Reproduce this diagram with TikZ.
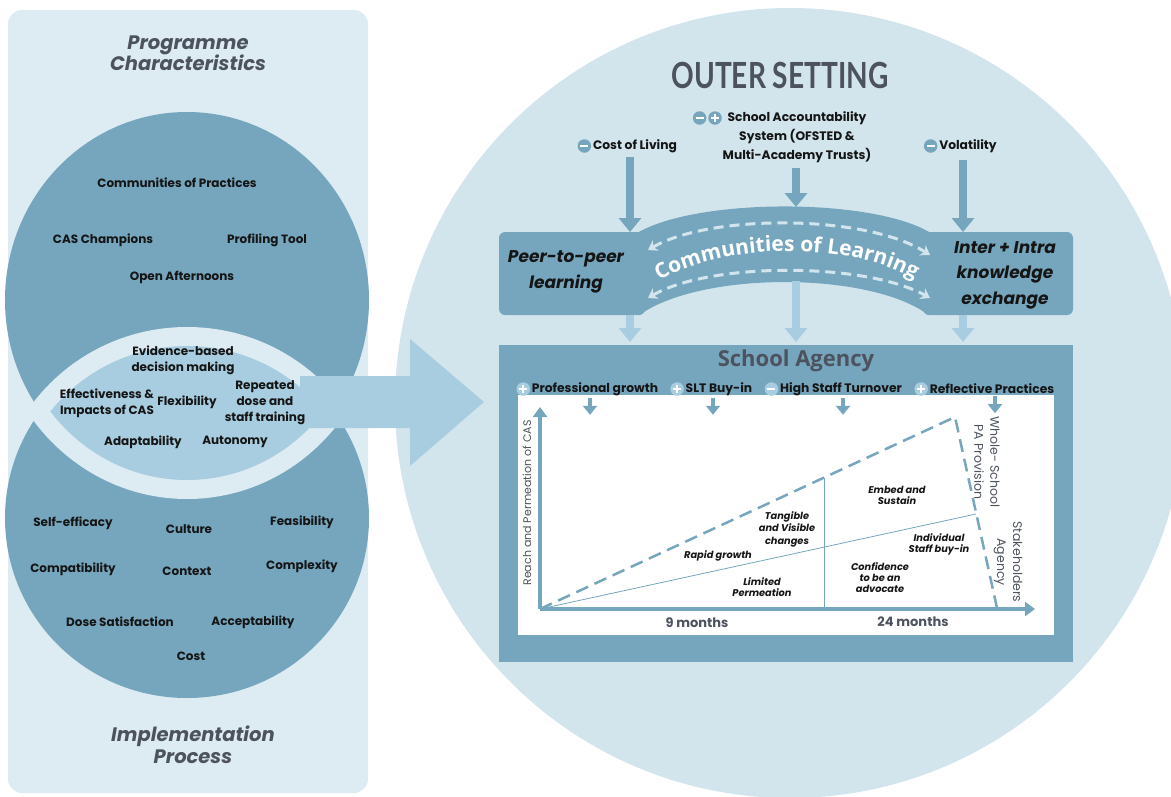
\documentclass[tikz,border=0pt]{standalone}
\usepackage{fontspec}
\setmainfont{Poppins}
\newfontfamily\opensans{Open Sans}
\newfontfamily\latofont{Lato}
\usepackage{graphicx}
\usepackage{tikz}
\usetikzlibrary{positioning,arrows.meta,decorations.text}

\definecolor{panelbg}{HTML}{DDEBF2}
\definecolor{deepblue}{HTML}{76A6BE}
\definecolor{lensblue}{HTML}{A8CDE0}
\definecolor{outerbg}{HTML}{D2E5ED}
\definecolor{inkgrey}{HTML}{4D535E}
\definecolor{inkblack}{HTML}{151515}

\newcommand{\fItem}{\fontsize{12}{16}\selectfont\bfseries}
\newcommand{\fHead}{\fontsize{19.5}{21.5}\selectfont\bfseries\itshape}
\newcommand{\fOuter}{\fontsize{12.3}{19}\selectfont\bfseries}
\newcommand{\fBand}{\fontsize{17}{25.5}\selectfont\bfseries\itshape}
\newcommand{\fGraph}{\fontsize{9.8}{11}\selectfont\bfseries\itshape}
\newcommand{\fSide}{\fontsize{12.5}{16}\selectfont}

\tikzset{
  item/.style={font=\fItem, text=inkblack, align=center, inner sep=0pt},
  heading/.style={font=\fHead, text=inkgrey, align=center, inner sep=0pt},
  outer/.style={font=\fOuter, text=inkblack, align=center, inner sep=0pt},
  bandbox/.style={fill=deepblue, rounded corners=6pt, inner sep=0pt},
  bandtext/.style={font=\fBand, text=inkblack, align=center, inner sep=0pt},
  graphlbl/.style={font=\fGraph, text=inkblack, align=center, inner sep=0pt},
  sidelbl/.style={font=\fSide, text=inkgrey, align=center, inner sep=0pt},
  months/.style={font=\fontsize{13}{14}\selectfont\bfseries, text=inkgrey, inner sep=0pt},
  minussign/.style={circle, fill=#1, minimum size=13.5pt, inner sep=0pt,
    path picture={\draw[white, line width=2.2pt] ([xshift=-4pt]path picture bounding box.center) -- ([xshift=4pt]path picture bounding box.center);}},
  minussign/.default=deepblue,
  plussign/.style={circle, fill=#1, minimum size=13.5pt, inner sep=0pt,
    path picture={\draw[white, line width=2.2pt] ([xshift=-4pt]path picture bounding box.center) -- ([xshift=4pt]path picture bounding box.center);
      \draw[white, line width=2.2pt] ([yshift=-4pt]path picture bounding box.center) -- ([yshift=4pt]path picture bounding box.center);}},
  plussign/.default=deepblue,
  bigdown/.style={draw=deepblue, line width=8pt, -{Triangle[width=22pt,length=14pt]}},
  lightdown/.style={draw=lensblue, line width=8pt, -{Triangle[width=22pt,length=14pt]}},
  smalldown/.style={draw=deepblue, line width=3.5pt, -{Triangle[width=14pt,length=9pt]}},
  axis/.style={draw=deepblue, line width=4pt, -{Triangle[width=14pt,length=10pt]}},
  growth/.style={draw=deepblue, line width=2.5pt, dash pattern=on 13pt off 7pt},
  thinline/.style={draw=deepblue, line width=0.8pt},
  flow/.style={draw=outerbg, line width=3pt, dash pattern=on 10pt off 6pt, {Stealth[length=9pt,width=12pt]}-{Stealth[length=9pt,width=12pt]}}
}

\begin{document}
\begin{tikzpicture}[x=1pt,y=-1pt]
  \useasboundingbox (0,0) rectangle (1171,796);
  \clip (0,0) rectangle (1171,796);

  % left panel with the two circles
  \fill[panelbg, rounded corners=14pt] (8,10) rectangle (368,793);
  \fill[deepblue] (187,300) ellipse [x radius=182, y radius=188];
  \fill[deepblue] (187,518) ellipse [x radius=182, y radius=180];
  \begin{scope}
    \clip (187,300) ellipse [x radius=193, y radius=199];
    \fill[panelbg] (187,518) ellipse [x radius=193, y radius=191];
  \end{scope}
  \begin{scope}
    \clip (187,300) ellipse [x radius=174, y radius=180];
    \fill[lensblue] (187,518) ellipse [x radius=174, y radius=172];
  \end{scope}

  % outer setting circle
  \fill[outerbg] (790,403) circle [radius=395];

  % big arrow
  \fill[lensblue] (300,376) -- (410,376) -- (410,339) -- (484,402) -- (410,466) -- (410,428) -- (300,428) -- cycle;

  \node[heading] (progchar) at (188,53) {Programme\\Characteristics};
  \node[heading] (implproc) at (193,745) {Implementation\\Process};

  \node[item] (cop) at (177,183) {Communities of Practices};
  \node[item] (champ) at (103,240) {CAS Champions};
  \node[item] (profil) at (267,240) {Profiling Tool};
  \node[item] (openaft) at (182,277) {Open Afternoons};

  \node[item] (evid) at (183,360) {Evidence-based\\decision making};
  \node[item] (effect) at (107,403) {Effectiveness \&\\Impacts of CAS};
  \node[item] (flex) at (187,402) {Flexibility};
  \node[item] (repeat) at (265,403) {Repeated\\dose and\\staff training};
  \node[item] (adapt) at (143,442) {Adaptability};
  \node[item] (auton) at (235,442) {Autonomy};

  \node[item] (selfeff) at (73,523) {Self-efficacy};
  \node[item] (culture) at (189,529) {Culture};
  \node[item] (feas) at (302,522) {Feasibility};
  \node[item] (compat) at (73,569) {Compatibility};
  \node[item] (context) at (187,571) {Context};
  \node[item] (complex) at (302,566) {Complexity};
  \node[item] (dosesat) at (120,622) {Dose Satisfaction};
  \node[item] (accept) at (253,622) {Acceptability};
  \node[item] (cost) at (191,656) {Cost};

  % outer setting
  \node[text=inkgrey, inner sep=0pt] (outerttl) at (780,75)
    {\scalebox{0.78}[1]{\latofont\bfseries\fontsize{36}{36}\selectfont OUTER SETTING}};

  \node[outer] (living) at (635,146) {Cost of Living};
  \node[minussign, left=1.5pt of living] (livingsign) {};
  \node[outer] (account) at (797,137) {School Accountability\\System (OFSTED \&\\Multi-Academy Trusts)};
  \node[plussign] (accplus) at (715,118) {};
  \node[minussign, left=1.5pt of accplus] (accminus) {};
  \node[outer] (volat) at (968,146) {Volatility};
  \node[minussign, left=1.5pt of volat] (volatsign) {};

  % communities of learning band
  \node[bandbox, minimum width=146pt, minimum height=83pt] (peer) at (572,273.5) {};
  \node[bandbox, minimum width=150pt, minimum height=83pt] (inter) at (998,273.5) {};
  \node[bandtext] (peertxt) at (566,272) {Peer-to-peer\\learning};
  \node[bandtext] (intertxt) at (1005,275) {Inter + Intra\\knowledge\\exchange};
  \fill[deepblue] ([xshift=-6pt]peer.north east) .. controls (700,198) and (870,198) .. ([xshift=6pt]inter.north west)
    -- ([xshift=6pt]inter.south west) .. controls (870,271) and (700,271) .. ([xshift=-6pt]peer.south east) -- cycle;
  \draw[flow] (648,250) .. controls (710,214) and (865,214) .. (930,255);
  \draw[flow] (648,298) .. controls (710,262) and (865,262) .. (930,298);
  \path[decorate, decoration={text along path, text align=center, text color=white,
      text={|\opensans\bfseries\fontsize{21}{21}\selectfont|Communities of Learning}}]
    (652,286) .. controls (715,240) and (858,240) .. (922,284);

  \coordinate (lefttrack) at (630,232);
  \coordinate (midtrack) at (796,207);
  \coordinate (righttrack) at (963,232);
  \draw[bigdown] ([yshift=-4pt]lefttrack |- living.south) -- (lefttrack);
  \draw[bigdown] ([yshift=-5pt]midtrack |- account.south) -- (midtrack);
  \draw[bigdown] ([yshift=-7pt]righttrack |- volat.south) -- (righttrack);

  % school agency
  \node[fill=deepblue, minimum width=574pt, minimum height=317pt, anchor=north west, inner sep=0pt] (agency) at (499,345) {};
  \fill[white] (518,395) rectangle (1054,635);
  \draw[lightdown, shorten >=3pt] (lefttrack |- peer.south) -- (lefttrack |- agency.north);
  \draw[lightdown, shorten >=3pt] (796,281) -- (midtrack |- agency.north);
  \draw[lightdown, shorten >=3pt] (righttrack |- inter.south) -- (righttrack |- agency.north);

  \node[text=inkgrey, inner sep=0pt, font=\opensans\bfseries\fontsize{22}{22}\selectfont] (agencyttl) at (796,361) {School Agency};
  \node[outer] (profgr) at (595,389) {Professional growth};
  \node[plussign=lensblue, left=1.5pt of profgr] (profsign) {};
  \node[outer] (sltbuy) at (719,389) {SLT Buy-in};
  \node[plussign=lensblue, left=1.5pt of sltbuy] (sltsign) {};
  \node[outer] (turnover) at (841,389) {High Staff Turnover};
  \node[minussign=lensblue, left=1.5pt of turnover] (turnsign) {};
  \node[outer] (reflect) at (992,389) {Reflective Practices};
  \node[plussign=lensblue, left=1.5pt of reflect] (reflsign) {};
  \draw[smalldown] ([xshift=-5pt,yshift=-2pt]profgr.south) -- ++(0,17);
  \draw[smalldown] ([xshift=-6pt,yshift=-2pt]sltbuy.south) -- ++(0,17);
  \draw[smalldown] ([xshift=2pt,yshift=-2pt]turnover.south) -- ++(0,17);
  \draw[smalldown] ([xshift=3pt,yshift=-2pt]reflect.south) -- ++(0,17);

  % graph
  \coordinate (orig) at (540,609);
  \coordinate (ytip) at (540,407);
  \coordinate (xtip) at (1035,609);
  \coordinate (peak) at (955,417);
  \coordinate (foot) at (997,608);
  \coordinate (buyin) at (976,514);
  \coordinate (split) at (824,478);
  \draw[thinline] (orig) -- (buyin);
  \draw[thinline] (split) -- (split |- orig);
  \draw[growth] (orig) -- (peak) -- (foot);
  \draw[axis] (orig) -- (ytip);
  \draw[axis] (orig) -- (xtip);

  \node[sidelbl, rotate=90, font=\fontsize{11}{12}\selectfont] (ylbl) at (527,503) {Reach and Permeation of CAS};
  \node[months] (nine) at (697,623) {9 months};
  \node[months] (twentyfour) at (913,622) {24 months};
  \node[graphlbl] (rapid) at (718,556) {Rapid growth};
  \node[graphlbl] (limited) at (762,587) {Limited\\Permeation};
  \node[graphlbl, font=\fontsize{9.8}{12.5}\selectfont\bfseries\itshape] (tangible) at (787,529) {Tangible\\and Visible\\changes};
  \node[graphlbl] (embed) at (897,495) {Embed and\\Sustain};
  \node[graphlbl] (indiv) at (939,544) {Individual\\Staff buy-in};
  \node[graphlbl] (confid) at (880,578) {Confidence\\to be an\\advocate};
  \node[sidelbl, rotate=-90] (whole) at (987,462) {Whole- School\\PA Provision};
  \node[sidelbl, rotate=-90] (stake) at (1008,562) {Stakeholders\\Agency};
\end{tikzpicture}
\end{document}
